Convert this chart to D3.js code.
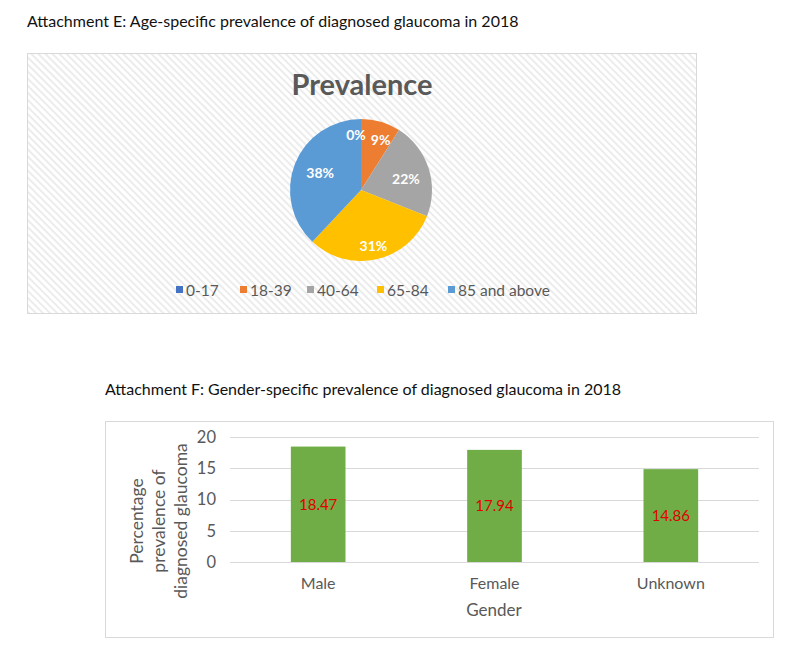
<!DOCTYPE html>
<html><head><meta charset="utf-8">
<script src="https://cdn.jsdelivr.net/npm/d3@7"></script>
<style>body{margin:0;background:#fff;} svg{display:block;font-family:Lato,"Open Sans",sans-serif;}</style>
</head><body>
<svg id="c" width="800" height="656"></svg>
<script>
const ageGroups = ["0-17","18-39","40-64","65-84","85 and above"];
const agePercent = [0, 9, 22, 31, 38];
const ageColors = ["#4472C4","#ED7D31","#A5A5A5","#FFC000","#5B9BD5"];
const genders = ["Male","Female","Unknown"];
const genderValues = [18.47, 17.94, 14.86];
const yTicks = [0,5,10,15,20];

const svg = d3.select("#c");
const defs = svg.append("defs");
const pat = defs.append("pattern").attr("id","hatch").attr("patternUnits","userSpaceOnUse")
  .attr("width",5).attr("height",5).attr("patternTransform","rotate(45)");
pat.append("rect").attr("width",5).attr("height",5).attr("fill","#ffffff");
pat.append("rect").attr("width",5).attr("height",2).attr("fill","#ececec");

// Heading E
svg.append("text").attr("x",27).attr("y",27).attr("font-size",16).attr("fill","#111")
  .text("Attachment E: Age-specific prevalence of diagnosed glaucoma in 2018");

// Pie frame
svg.append("rect").attr("x",27.5).attr("y",53.5).attr("width",669).attr("height",260)
  .attr("fill","url(#hatch)").attr("stroke","#d9d9d9");
svg.append("text").attr("x",362).attr("y",95).attr("text-anchor","middle")
  .attr("font-size",29).attr("font-weight","bold").attr("fill","#595959").text("Prevalence");

const cx = 361, cy = 190, r = 71;
const pie = d3.pie().sort(null).value(d=>d)(agePercent);
const arc = d3.arc().innerRadius(0).outerRadius(r);
const g = svg.append("g").attr("transform",`translate(${cx},${cy})`);
g.selectAll("path").data(pie).join("path").attr("d",arc)
  .attr("fill",(d,i)=>ageColors[i]);
const labelArc = d3.arc().innerRadius(r*0.74).outerRadius(r*0.74);
const labelOffsets = [[-5,8],[5,1],[-5,5],[1,5],[8,2]];
g.selectAll("text.pl").data(pie).join("text").attr("class","pl")
  .attr("transform",(d,i)=>{
    const c = (i===0)? d3.arc().innerRadius(r*0.88).outerRadius(r*0.88).centroid(d) : labelArc.centroid(d);
    return `translate(${c[0]+labelOffsets[i][0]},${c[1]+labelOffsets[i][1]})`;})
  .attr("text-anchor","middle").attr("dy","0.35em")
  .attr("font-size",14).attr("font-weight","bold").attr("fill","#fff")
  .text(d=>d.data+"%");

// Legend
const legX = [176, 240, 307, 377, 448];
const leg = svg.append("g");
ageGroups.forEach((a,i)=>{
  leg.append("rect").attr("x",legX[i]).attr("y",286).attr("width",7).attr("height",7).attr("fill",ageColors[i]);
  leg.append("text").attr("x",legX[i]+10).attr("y",296).attr("font-size",15.5).attr("fill","#595959").text(a);
});

// Heading F
svg.append("text").attr("x",105).attr("y",395).attr("font-size",16).attr("fill","#111")
  .text("Attachment F: Gender-specific prevalence of diagnosed glaucoma in 2018");

// Bar frame
svg.append("rect").attr("x",105.5).attr("y",421.5).attr("width",668).attr("height",216)
  .attr("fill","#fff").attr("stroke","#d9d9d9");

const x = d3.scaleBand().domain(genders).range([230,759]).paddingInner(0.69).paddingOuter(0.345);
const y = d3.scaleLinear().domain([0,20]).range([562,437]);

const grid = svg.append("g");
grid.selectAll("line").data(yTicks).join("line")
  .attr("x1",230).attr("x2",759).attr("y1",d=>Math.round(y(d))+0.5).attr("y2",d=>Math.round(y(d))+0.5)
  .attr("stroke","#d9d9d9");

const yAxis = svg.append("g").attr("transform","translate(230,0)")
  .call(d3.axisLeft(y).tickValues(yTicks).tickSize(0).tickPadding(14));
yAxis.select(".domain").remove();
yAxis.selectAll("text").attr("font-size",16.5).attr("fill","#595959").attr("font-family","Lato");

svg.append("g").selectAll("rect").data(genders).join("rect")
  .attr("x",d=>x(d)).attr("width",x.bandwidth())
  .attr("y",(d,i)=>y(genderValues[i])).attr("height",(d,i)=>y(0)-y(genderValues[i]))
  .attr("fill","#70AD47");

svg.append("g").selectAll("text").data(genders).join("text")
  .attr("x",d=>x(d)+x.bandwidth()/2)
  .attr("y",(d,i)=>(y(genderValues[i])+y(0))/2).attr("dy","0.35em")
  .attr("text-anchor","middle").attr("font-size",15).attr("fill","#e00000")
  .text((d,i)=>genderValues[i].toFixed(2));

const xAxis = svg.append("g").attr("transform","translate(0,562)")
  .call(d3.axisBottom(x).tickSize(0).tickPadding(16));
xAxis.select(".domain").remove();
xAxis.selectAll("text").attr("font-size",16).attr("fill","#595959").attr("font-family","Lato");

svg.append("text").attr("x",494).attr("y",616).attr("text-anchor","middle")
  .attr("font-size",17).attr("fill","#595959").text("Gender");

const yt = svg.append("text").attr("transform","translate(159,521) rotate(-90)")
  .attr("text-anchor","middle").attr("font-size",17.5).attr("fill","#595959");
["Percentage","prevalence of","diagnosed glaucoma"].forEach((t,i)=>{
  yt.append("tspan").attr("x",0).attr("y",(i-1)*22+6).text(t);
});
</script>
</body></html>
